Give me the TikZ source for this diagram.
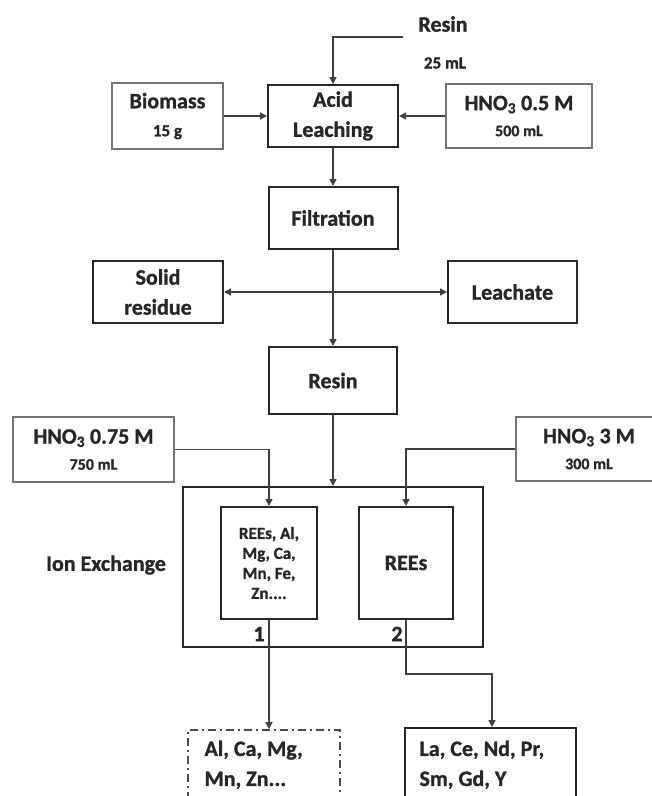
\documentclass[tikz,border=0pt]{standalone}
\usepackage{fontspec}
\setmainfont{Carlito}[BoldFeatures={FakeBold=1}]
\usetikzlibrary{arrows.meta}
\tikzset{
  big/.style={font=\fontsize{22}{30}\selectfont\bfseries, text=black!85},
  small/.style={font=\fontsize{17}{20}\selectfont\bfseries, text=black!85},
  procbox/.style={draw=black!85, line width=2pt, align=center, inner sep=0pt, big},
  inbox/.style={draw=black!55, line width=1.6pt, align=center, inner sep=0pt, big},
  conn/.style={draw=black!75, line width=1.5pt, -{Triangle[length=7pt,width=7pt]}},
  dconn/.style={draw=black!75, line width=1.5pt, {Triangle[length=7pt,width=7pt]}-{Triangle[length=7pt,width=7pt]}},
}
\begin{document}
\begin{tikzpicture}[x=1pt,y=-1pt]
\useasboundingbox (0,0) rectangle (652,796);
\clip (0,0) rectangle (652,796);
\fill[white] (0,0) rectangle (652,796);

% top inputs
\node[big] (resinT) at (443,24) {Resin};
\node[small] (resinV) at (445,63) {25 mL};
\coordinate (rs) at (403,37);

\node[inbox, minimum width=111pt, minimum height=66pt] (biomass) at (167.5,116)
  {Biomass\\[-2pt]{\fontsize{17}{20}\selectfont 15 g}};
\node[procbox, minimum width=130pt, minimum height=62pt] (acid) at (333,116)
  {Acid\\Leaching};
\node[inbox, minimum width=146pt, minimum height=64pt] (hnoA) at (519,116)
  {HNO\textsubscript{3} 0.5 M\\[-4pt]{\fontsize{16}{20}\selectfont 500 mL}};

\node[procbox, minimum width=129pt, minimum height=62pt] (filt) at (333,218) {Filtration};
\node[procbox, minimum width=130pt, minimum height=62pt] (solid) at (158,292) {Solid\\residue};
\node[procbox, minimum width=129pt, minimum height=62pt] (leach) at (512.5,292) {Leachate};
\node[procbox, minimum width=128pt, minimum height=67pt] (resin) at (333,380.5) {Resin};

\node[inbox, minimum width=161pt, minimum height=65pt] (hnoB) at (93.5,449.5)
  {HNO\textsubscript{3} 0.75 M\\[-4pt]{\fontsize{16}{20}\selectfont 750 mL}};
\node[inbox, minimum width=146pt, minimum height=64pt] (hnoC) at (589,449)
  {HNO\textsubscript{3} 3 M\\[-4pt]{\fontsize{16}{20}\selectfont 300 mL}};

% ion exchange
\node[procbox, minimum width=300pt, minimum height=160pt] (ion) at (333,567) {};
\node[procbox, small, minimum width=96pt, minimum height=112pt] (b1) at (269,563)
  {REEs, Al,\\Mg, Ca,\\Mn, Fe,\\Zn....};
\node[procbox, minimum width=94pt, minimum height=112pt] (b2) at (406,563) {REEs};
\node[big] (ionl) at (106,565) {Ion Exchange};
\node[big] (n1) at (259,634) {1};
\node[big] (n2) at (397,634) {2};

% outputs
\node[draw=black!70, line width=1.6pt, dash pattern=on 8pt off 4pt on 2pt off 4pt,
  minimum width=152pt, minimum height=84pt, inner sep=0pt] (dash) at (264,772) {};
\node[big, align=left, anchor=north west] (dasht) at (201,737) {Al, Ca, Mg,\\Mn, Zn...};
\node[procbox, minimum width=171pt, minimum height=84pt] (sol) at (490.5,770) {};
\node[big, align=left, anchor=north west] (solt) at (416,737) {La, Ce, Nd, Pr,\\Sm, Gd, Y};

% connectors
\draw[conn] (rs) -| (acid.north);
\draw[conn] (biomass.east) -- (biomass.east -| acid.west);
\draw[conn] (hnoA.west) -- (hnoA.west -| acid.east);
\draw[conn] (acid.south) -- (acid.south |- filt.north);
\draw[conn] (filt.south) -- (filt.south |- resin.north);
\draw[dconn] (solid.east) -- (leach.west);
\draw[conn] (resin.south) -- (resin.south |- ion.north);
\draw[conn] (hnoB.east) -| (b1.north);
\draw[conn] (hnoC.west) -| (b2.north);
\draw[conn] (b1.south) -- (b1.south |- dash.north);
\coordinate (k) at (492,674);
\draw[conn] (b2.south) |- (k) -- (k |- sol.north);
\end{tikzpicture}
\end{document}
